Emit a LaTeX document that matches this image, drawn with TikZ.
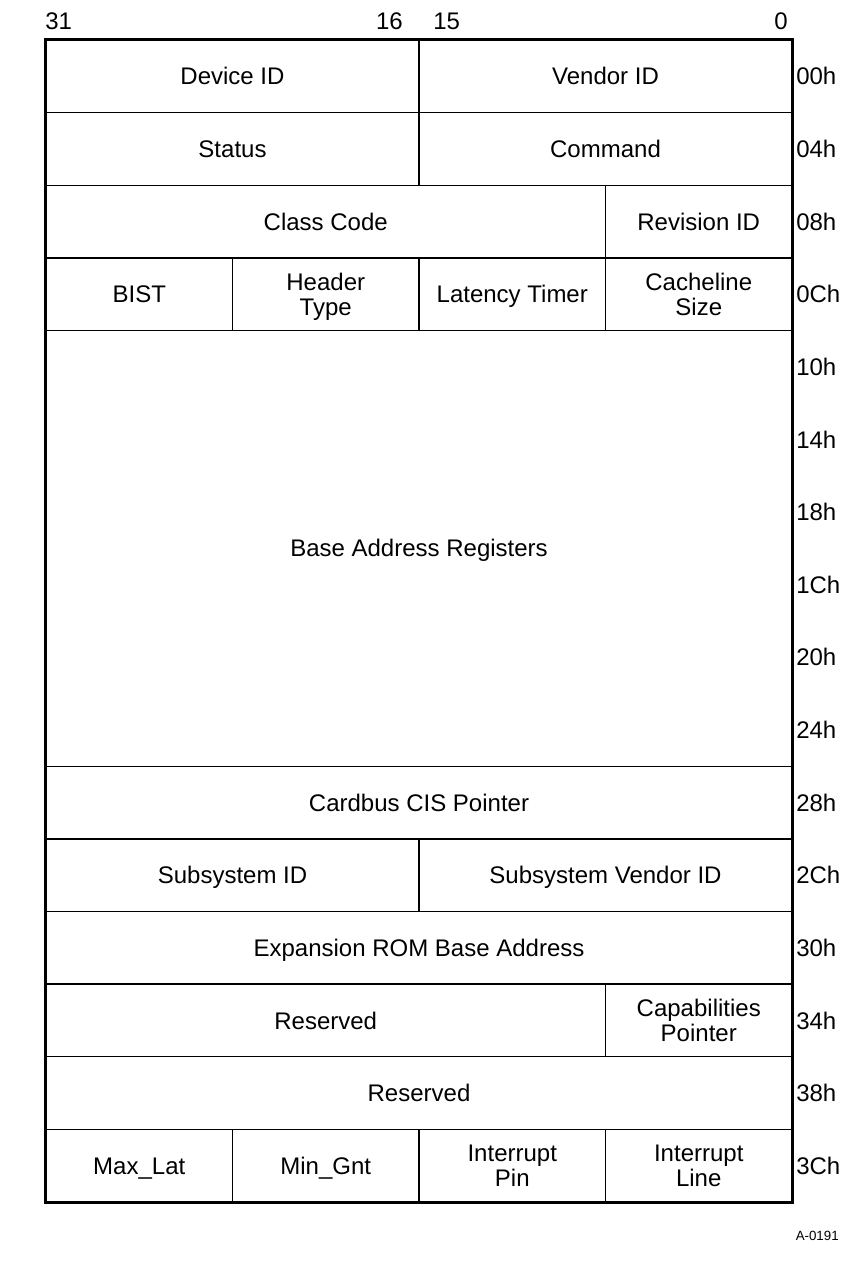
\documentclass[tikz,border=0pt]{standalone}
\usepackage{fontspec}
\setmainfont{Liberation Sans}
\begin{document}
\begin{tikzpicture}[x=0.75pt,y=-0.75pt,
  cellnode/.style={draw=black,line width=1pt,inner sep=0pt,align=center,
    font=\fontsize{18pt}{18.75pt}\selectfont,text height=12.9pt,text depth=0pt},
  twoline/.style={text height=31.65pt,text depth=0pt},
  bitlabel/.style={inner sep=0pt,font=\fontsize{18pt}{18.75pt}\selectfont},
  offlabel/.style={anchor=west,inner sep=0pt,font=\fontsize{18pt}{18.75pt}\selectfont,text height=12.9pt,text depth=0pt},
  figlabel/.style={anchor=base east,inner sep=0pt,font=\fontsize{10pt}{12pt}\selectfont}]
\useasboundingbox (0,0) rectangle (864,1262);
\pgfmathsetmacro{\Xa}{46}
\pgfmathsetmacro{\Xb}{232.5}
\pgfmathsetmacro{\Xc}{419}
\pgfmathsetmacro{\Xd}{605.5}
\pgfmathsetmacro{\Xe}{792}
\newcommand\cellbox[7][]{%
  \node[cellnode,#1,minimum width={(#5-#3)*0.75pt},minimum height={(#6-#4)*72.625*0.75pt}]
    (#2) at ({(#3+#5)/2},{40+(#4+#6)/2*72.625}) {#7};}
% row 0
\cellbox{devid}{\Xa}{0}{\Xc}{1}{Device ID}
\cellbox{venid}{\Xc}{0}{\Xe}{1}{Vendor ID}
% row 1
\cellbox{status}{\Xa}{1}{\Xc}{2}{Status}
\cellbox{command}{\Xc}{1}{\Xe}{2}{Command}
% row 2
\cellbox{classcode}{\Xa}{2}{\Xd}{3}{Class Code}
\cellbox{revid}{\Xd}{2}{\Xe}{3}{Revision ID}
% row 3
\cellbox{bist}{\Xa}{3}{\Xb}{4}{BIST}
\cellbox[twoline]{htype}{\Xb}{3}{\Xc}{4}{Header\\Type}
\cellbox{lat}{\Xc}{3}{\Xd}{4}{Latency Timer}
\cellbox[twoline]{cls}{\Xd}{3}{\Xe}{4}{Cacheline\\Size}
% rows 4-9
\cellbox{bar}{\Xa}{4}{\Xe}{10}{Base Address Registers}
% row 10
\cellbox{cis}{\Xa}{10}{\Xe}{11}{Cardbus CIS Pointer}
% row 11
\cellbox{subid}{\Xa}{11}{\Xc}{12}{Subsystem ID}
\cellbox{subvid}{\Xc}{11}{\Xe}{12}{Subsystem Vendor ID}
% row 12
\cellbox{rom}{\Xa}{12}{\Xe}{13}{Expansion ROM Base Address}
% row 13
\cellbox{resa}{\Xa}{13}{\Xd}{14}{Reserved}
\cellbox[twoline]{cap}{\Xd}{13}{\Xe}{14}{Capabilities\\Pointer}
% row 14
\cellbox{resb}{\Xa}{14}{\Xe}{15}{Reserved}
% row 15
\cellbox{maxlat}{\Xa}{15}{\Xb}{16}{Max\_Lat}
\cellbox{mingnt}{\Xb}{15}{\Xc}{16}{Min\_Gnt}
\cellbox[twoline]{ipin}{\Xc}{15}{\Xd}{16}{Interrupt\\Pin}
\cellbox[twoline]{iline}{\Xd}{15}{\Xe}{16}{Interrupt\\Line}
% outer border
\draw[line width=1.5pt] (devid.north west) rectangle (iline.south east);
% bit labels
\node[bitlabel,anchor=base west] (b31) at (45,30) {31};
\node[bitlabel,anchor=base east] (b16) at (403,30) {16};
\node[bitlabel,anchor=base west] (b15) at (433,30) {15};
\node[bitlabel,anchor=base east] (b0) at (788,30) {0};
% offsets
\foreach \k/\t in {0/00h,1/04h,2/08h,3/0Ch,4/10h,5/14h,6/18h,7/1Ch,8/20h,9/24h,10/28h,11/2Ch,12/30h,13/34h,14/38h,15/3Ch}{
  \node[offlabel] (off\k) at (796,{40+(\k+0.5)*72.625}) {\t};
}
\node[figlabel] (fig) at (839,1240) {A-0191};
\end{tikzpicture}
\end{document}
